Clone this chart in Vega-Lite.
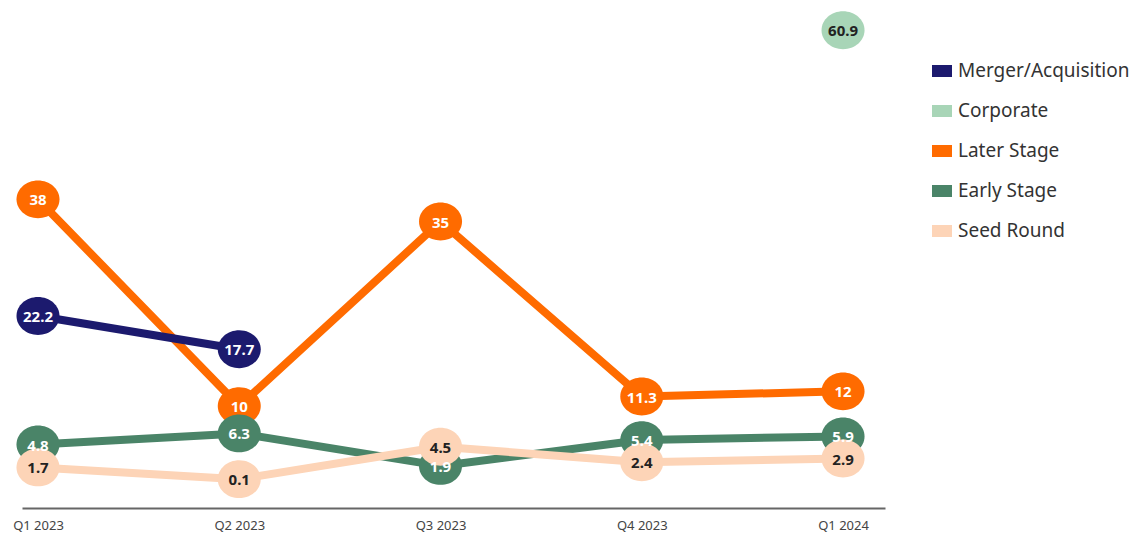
{
  "$schema": "https://vega.github.io/schema/vega-lite/v6.json",
  "autosize": {"type": "none"},
  "padding": {"left": 22, "top": 0, "right": 257, "bottom": 27},
  "width": 863,
  "height": 508,
  "background": "white",
  "config": {"view": {"stroke": null}, "font": "Noto Sans"},
  "data": {"values": [
    {"series": "Later Stage", "quarter": "Q1 2023", "value": 38},
    {"series": "Later Stage", "quarter": "Q2 2023", "value": 10},
    {"series": "Later Stage", "quarter": "Q3 2023", "value": 35},
    {"series": "Later Stage", "quarter": "Q4 2023", "value": 11.3},
    {"series": "Later Stage", "quarter": "Q1 2024", "value": 12},
    {"series": "Merger/Acquisition", "quarter": "Q1 2023", "value": 22.2},
    {"series": "Merger/Acquisition", "quarter": "Q2 2023", "value": 17.7},
    {"series": "Early Stage", "quarter": "Q1 2023", "value": 4.8},
    {"series": "Early Stage", "quarter": "Q2 2023", "value": 6.3},
    {"series": "Early Stage", "quarter": "Q3 2023", "value": 1.9},
    {"series": "Early Stage", "quarter": "Q4 2023", "value": 5.4},
    {"series": "Early Stage", "quarter": "Q1 2024", "value": 5.9},
    {"series": "Seed Round", "quarter": "Q1 2023", "value": 1.7},
    {"series": "Seed Round", "quarter": "Q2 2023", "value": 0.1},
    {"series": "Seed Round", "quarter": "Q3 2023", "value": 4.5},
    {"series": "Seed Round", "quarter": "Q4 2023", "value": 2.4},
    {"series": "Seed Round", "quarter": "Q1 2024", "value": 2.9},
    {"series": "Corporate", "quarter": "Q1 2024", "value": 60.9}
  ]},
  "encoding": {
    "x": {
      "field": "quarter", "type": "ordinal",
      "sort": ["Q1 2023", "Q2 2023", "Q3 2023", "Q4 2023", "Q1 2024"],
      "scale": {"type": "point", "padding": 0.144, "align": 0.276},
      "axis": {
        "title": null, "labelAngle": 0, "ticks": false, "grid": false,
        "domainColor": "#666666", "domainWidth": 2,
        "labelFont": "Noto Sans", "labelFontSize": 13, "labelColor": "#444444", "labelPadding": 11
      }
    },
    "y": {
      "field": "value", "type": "quantitative",
      "scale": {"domain": [-3.8, 65], "nice": false, "zero": false},
      "axis": null
    },
    "color": {
      "field": "series", "type": "nominal",
      "scale": {
        "domain": ["Merger/Acquisition", "Corporate", "Later Stage", "Early Stage", "Seed Round"],
        "range": ["#1c1a6e", "#a8d5b7", "#ff6b00", "#4a8468", "#fdd4b7"]
      },
      "legend": {
        "title": null, "orient": "none", "legendX": 910, "legendY": 61,
        "symbolType": "M-1,-0.6H1V0.6H-1Z", "symbolSize": 400, "symbolStrokeWidth": 0,
        "labelFont": "Noto Sans", "labelFontSize": 19, "labelColor": "#333333", "labelOffset": 6,
        "rowPadding": 20, "padding": 0, "labelLimit": 300
      }
    }
  },
  "layer": [
    {
      "mark": {"type": "line", "strokeWidth": 8, "strokeCap": "round", "strokeJoin": "round"},
      "encoding": {"detail": {"field": "series"}}
    },
    {
      "mark": {"type": "point", "filled": true, "opacity": 1, "shape": "M -1 0 A 1 0.88 0 1 0 1 0 A 1 0.88 0 1 0 -1 0 Z", "size": 1849},
      "encoding": {}
    },
    {
      "mark": {"type": "text", "font": "Noto Sans", "fontSize": 15, "fontWeight": "bold", "baseline": "middle", "align": "center", "dy": 1},
      "encoding": {
        "text": {"field": "value", "type": "quantitative"},
        "color": {
          "condition": {"test": "datum.series === 'Seed Round' || datum.series === 'Corporate'", "value": "#222222"},
          "value": "#ffffff"
        }
      }
    }
  ]
}
